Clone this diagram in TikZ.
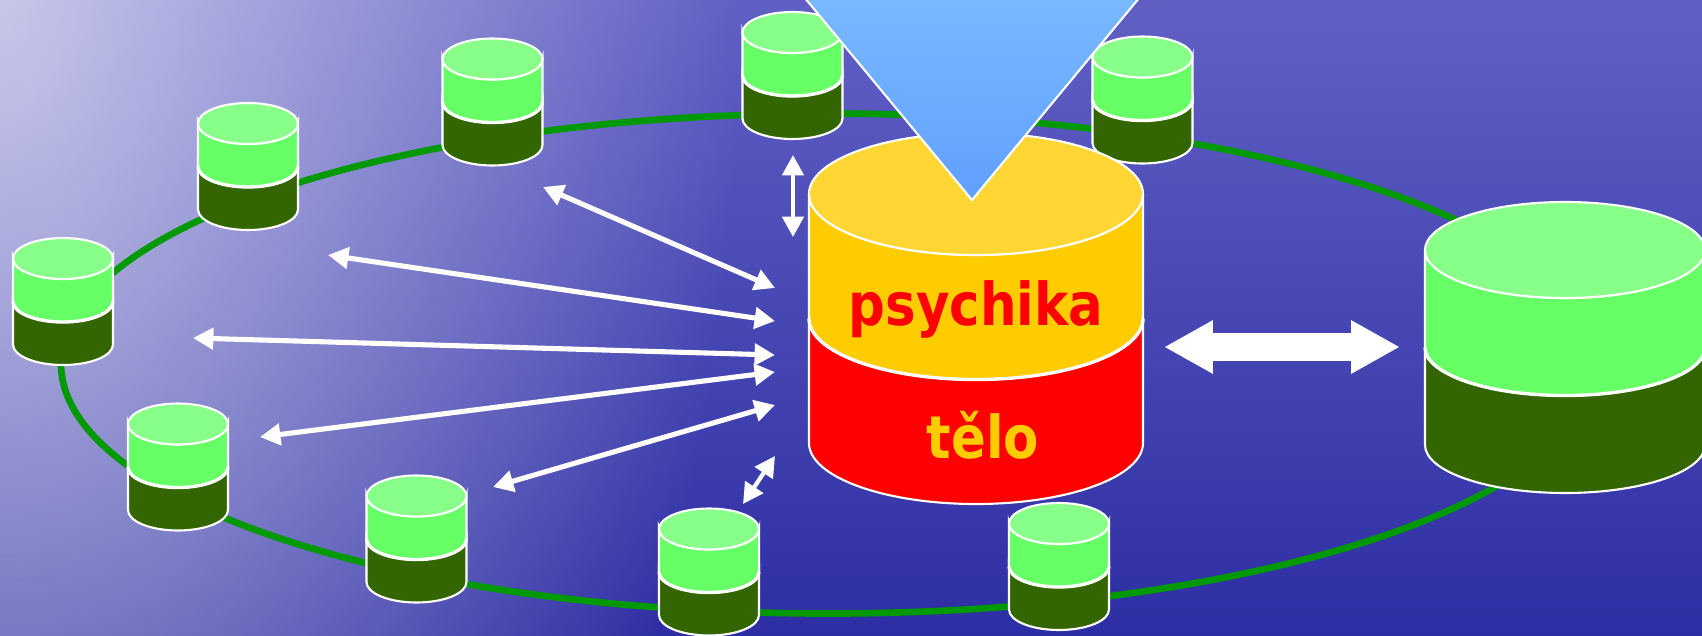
\documentclass[tikz,border=0pt]{standalone}
\usepackage{fontspec}
\usepackage{tikz}
\usetikzlibrary{arrows.meta, fadings}
\newfontfamily\cylfont{DejaVu Sans}[FakeStretch=0.87]
\definecolor{ringgreen}{RGB}{0,153,0}
\definecolor{leafpale}{RGB}{136,255,136}
\definecolor{leaf}{RGB}{102,255,102}
\definecolor{moss}{RGB}{51,102,0}
\definecolor{sunpale}{RGB}{255,214,51}
\definecolor{sun}{RGB}{255,204,0}
\definecolor{blood}{RGB}{255,0,0}
\definecolor{seatop}{RGB}{96,96,196}
\definecolor{seabot}{RGB}{46,46,164}
\definecolor{skytop}{RGB}{122,187,255}
\definecolor{skybot}{RGB}{96,160,255}
\tikzfading[name=glowfade, inner color=transparent!35, outer color=transparent!100]
\tikzstyle{ring} = [draw=ringgreen, line width=1.9pt]
\tikzstyle{rim} = [draw=white, line width=0.6pt]
\tikzstyle{seam} = [draw=white, line width=0.95pt]
\tikzstyle{link} = [draw=white, line width=1.45pt, <->, >={Triangle[length=5.8pt,width=6pt]}]
\tikzstyle{shortlink} = [link, line width=1.2pt]
\tikzstyle{biglink} = [draw=white, line width=8pt, <->, >={Triangle[length=13.9pt,width=14.2pt]}]
\tikzstyle{cyltext} = [font=\cylfont\bfseries\fontsize{16.8}{18}\selectfont, inner sep=0pt]
% #1 name, #2 x, #3 y of top, #4 rx, #5 ry, #6 band, #7 lid, #8 upper, #9 lower
\newcommand{\drum}[9]{%
  \coordinate (#1) at (#2,#3);
  \filldraw[rim, fill=#9] (#2-#4,#3+#6) -- (#2-#4,#3+2*#6) arc (180:0:#4 and #5) -- (#2+#4,#3+#6) arc (0:180:#4 and #5) -- cycle;
  \filldraw[rim, fill=#8] (#2-#4,#3) -- (#2-#4,#3+#6) arc (180:0:#4 and #5) -- (#2+#4,#3) arc (0:180:#4 and #5) -- cycle;
  \draw[seam] (#2-#4,#3+#6) arc (180:0:#4 and #5);
  \filldraw[rim, fill=#7] (#2,#3) ellipse (#4 and #5);
}

\begin{document}
\begin{tikzpicture}[x=0.01cm, y=-0.01cm]
    \useasboundingbox (0,0) rectangle (1702,636);
    \clip (0,0) rectangle (1702,636);
    % sea
    \shade[top color=seatop, bottom color=seabot] (0,0) rectangle (1702,636);
    \fill[white, path fading=glowfade] (0,0) ellipse (740 and 1400);
    % ring
    \draw[ring] (828,363.5) ellipse (767 and 250);

    % small drums on the ring
    \drum{d1}{492.5}{59}{50}{20.5}{43}{leafpale}{leaf}{moss}
    \drum{d2}{248}{123.5}{50}{20.5}{43}{leafpale}{leaf}{moss}
    \drum{d3}{63}{258.5}{50}{20.5}{43}{leafpale}{leaf}{moss}
    \drum{d4}{178}{424}{50}{20.5}{43}{leafpale}{leaf}{moss}
    \drum{d5}{416.5}{496}{50}{20.5}{43}{leafpale}{leaf}{moss}
    \drum{d6}{709}{529}{50}{20.5}{43}{leafpale}{leaf}{moss}
    \drum{d7}{1059}{523.5}{50}{20.5}{43}{leafpale}{leaf}{moss}
    \drum{d8}{1142.5}{57}{50}{20.5}{43}{leafpale}{leaf}{moss}
    \drum{d9}{792.5}{32.5}{50}{20.5}{43}{leafpale}{leaf}{moss}

    % the other one
    \drum{peer}{1565}{250}{140}{48}{97.5}{leafpale}{leaf}{moss}

    % arrow ends
    \coordinate (out1) at (543,187);  \coordinate (in1) at (775,288);
    \coordinate (out2) at (328,255);  \coordinate (in2) at (775,321);
    \coordinate (out3) at (193,338);  \coordinate (in3) at (775,355);
    \coordinate (out4) at (260,437);  \coordinate (in4) at (775,372);
    \coordinate (out5) at (493,487);  \coordinate (in5) at (775,405);
    \coordinate (out6) at (743,504);  \coordinate (in6) at (775,456);
    \coordinate (out7) at (793,155);  \coordinate (in7) at (793,237);
    \coordinate (left8) at (1164,347); \coordinate (right8) at (1400,347);

    \draw [link] (out1) -- (in1);
    \draw [link] (out2) -- (in2);
    \draw [link] (out3) -- (in3);
    \draw [link] (out4) -- (in4);
    \draw [link] (out5) -- (in5);
    \draw [shortlink] (out6) -- (in6);
    \draw [shortlink] (out7) -- (in7);
    \draw [biglink] (left8) -- (right8);

    % core
    \drum{core}{976}{194}{167}{61}{124.5}{sunpale}{sun}{blood}
    \node (psy) [cyltext, text=blood, anchor=base] at (976,325) {psychika};
    \node (telo) [cyltext, text=sun, anchor=base] at (983,458) {tělo};

    % funnel from above
    \shadedraw[rim, top color=skytop, bottom color=skybot] (790,-20) -- (1154,-20) -- (972,200) -- cycle;
\end{tikzpicture}
\end{document}
